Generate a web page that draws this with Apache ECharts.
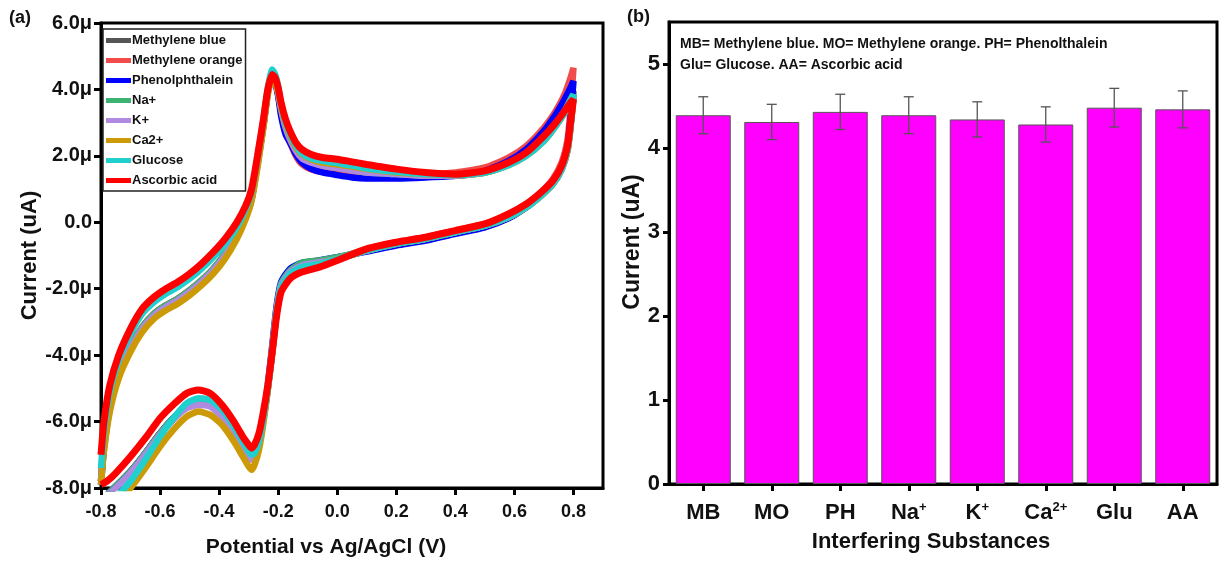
<!DOCTYPE html>
<html>
<head>
<meta charset="utf-8">
<script src="https://cdn.jsdelivr.net/npm/echarts@6/dist/echarts.min.js"></script>
<style>
html,body{margin:0;padding:0;background:#fff;}
#chart{width:1225px;height:563px;}
</style>
</head>
<body>
<div id="chart"></div>
<script>
// ---------- Panel (a): cyclic voltammograms ----------
const seriesNames = ['Methylene blue','Methylene orange','Phenolphthalein','Na+','K+','Ca2+','Glucose','Ascorbic acid'];
const seriesColors = ['#555555','#f24b4b','#0000ff','#3cb371','#b08ae0','#cc9a06','#1fd0cf','#ff0000'];

// potential (V): forward scan then reverse scan
const potential = [
  -0.80,-0.79,-0.77,-0.74,-0.70,-0.66,-0.62,-0.58,-0.54,-0.50,-0.46,-0.42,-0.38,-0.34,-0.31,-0.29,-0.27,-0.25,-0.235,-0.22,-0.21,-0.20,-0.19,-0.175,-0.16,-0.14,-0.12,-0.09,-0.05,0.00,0.05,0.10,0.20,0.30,0.40,0.50,0.58,0.64,0.70,0.74,0.77,0.79,0.80,
  0.80,0.79,0.78,0.76,0.73,0.69,0.64,0.58,0.50,0.40,0.30,0.20,0.10,0.00,-0.06,-0.12,-0.16,-0.19,-0.205,-0.22,-0.235,-0.25,-0.265,-0.28,-0.29,-0.30,-0.32,-0.35,-0.39,-0.43,-0.47,-0.51,-0.55,-0.60,-0.65,-0.70,-0.75,-0.78,-0.80
];

// current (µA)
const curMethyleneBlue = [
  -7.8,-6.7,-5.5,-4.55,-3.75,-3.15,-2.75,-2.5,-2.3,-2.05,-1.75,-1.4,-0.95,-0.35,0.2,0.75,1.8,2.95,3.95,4.45,4.3,3.95,3.45,2.9,2.55,2.2,1.95,1.8,1.7,1.62,1.55,1.5,1.45,1.4,1.4,1.5,1.75,2.05,2.55,3.0,3.45,3.8,3.95,
  3.95,2.9,2.2,1.6,1.15,0.8,0.45,0.15,-0.1,-0.3,-0.5,-0.65,-0.85,-1.1,-1.25,-1.35,-1.55,-1.95,-2.7,-3.9,-5.0,-5.9,-6.6,-7.0,-7.1,-7.0,-6.7,-6.3,-5.8,-5.5,-5.45,-5.55,-5.85,-6.35,-6.95,-7.5,-7.95,-8.2,-8.3
];
const curMethyleneOrange = [
  -7.8,-6.7,-5.5,-4.55,-3.75,-3.15,-2.75,-2.5,-2.3,-2.05,-1.75,-1.4,-0.95,-0.35,0.2,0.75,1.8,2.95,3.95,4.4,4.25,3.85,3.3,2.7,2.4,2.0,1.75,1.6,1.52,1.48,1.45,1.45,1.45,1.45,1.5,1.65,1.95,2.3,2.85,3.35,3.85,4.35,4.65,
  4.65,3.4,2.5,1.8,1.3,0.9,0.5,0.2,-0.05,-0.25,-0.45,-0.6,-0.8,-1.1,-1.25,-1.35,-1.55,-1.95,-2.7,-3.9,-5.0,-5.9,-6.6,-7.0,-7.1,-7.0,-6.7,-6.3,-5.8,-5.5,-5.45,-5.55,-5.85,-6.35,-6.95,-7.5,-7.95,-8.2,-8.3
];
const curPhenolphthalein = [
  -7.9,-6.8,-5.6,-4.6,-3.8,-3.2,-2.8,-2.55,-2.35,-2.1,-1.8,-1.45,-1.0,-0.4,0.15,0.7,1.75,2.9,3.9,4.4,4.2,3.8,3.2,2.65,2.4,2.05,1.8,1.62,1.5,1.42,1.35,1.32,1.32,1.35,1.4,1.55,1.85,2.2,2.75,3.25,3.7,4.05,4.25,
  4.25,3.1,2.3,1.65,1.2,0.82,0.45,0.12,-0.15,-0.35,-0.55,-0.7,-0.88,-1.05,-1.15,-1.22,-1.4,-1.8,-2.5,-3.7,-4.9,-5.9,-6.6,-7.0,-7.1,-7.0,-6.7,-6.3,-5.8,-5.5,-5.45,-5.55,-5.85,-6.35,-6.95,-7.5,-7.95,-8.2,-8.3
];
const curNa = [
  -7.8,-6.7,-5.5,-4.55,-3.75,-3.15,-2.75,-2.5,-2.3,-2.05,-1.75,-1.4,-0.95,-0.35,0.2,0.75,1.8,2.95,3.95,4.45,4.3,3.95,3.45,2.9,2.55,2.2,1.97,1.82,1.72,1.65,1.57,1.5,1.45,1.4,1.4,1.5,1.75,2.05,2.5,2.95,3.35,3.7,3.85,
  3.85,2.9,2.2,1.6,1.15,0.8,0.45,0.15,-0.1,-0.3,-0.5,-0.65,-0.85,-1.05,-1.15,-1.22,-1.45,-1.85,-2.6,-3.8,-4.95,-5.9,-6.6,-7.0,-7.1,-7.0,-6.7,-6.3,-5.8,-5.5,-5.45,-5.55,-5.85,-6.35,-6.95,-7.5,-7.95,-8.2,-8.3
];
const curK = [
  -7.8,-6.7,-5.5,-4.55,-3.8,-3.2,-2.8,-2.55,-2.35,-2.1,-1.8,-1.45,-1.0,-0.4,0.15,0.7,1.75,2.9,3.9,4.4,4.25,3.9,3.4,2.85,2.5,2.15,1.93,1.8,1.7,1.63,1.56,1.5,1.45,1.4,1.4,1.5,1.75,2.05,2.5,2.95,3.35,3.65,3.8,
  3.8,2.85,2.15,1.6,1.15,0.8,0.45,0.15,-0.1,-0.3,-0.5,-0.65,-0.85,-1.1,-1.2,-1.3,-1.5,-1.9,-2.65,-3.85,-5.0,-5.95,-6.65,-7.05,-7.15,-7.05,-6.75,-6.35,-5.85,-5.55,-5.5,-5.6,-5.9,-6.4,-7.0,-7.55,-8.0,-8.25,-8.35
];
const curCa = [
  -7.9,-6.9,-5.7,-4.7,-3.9,-3.3,-2.9,-2.65,-2.45,-2.2,-1.9,-1.55,-1.1,-0.5,0.1,0.65,1.65,2.85,3.85,4.35,4.2,3.9,3.45,2.95,2.6,2.25,2.05,1.9,1.8,1.74,1.68,1.6,1.5,1.45,1.42,1.5,1.72,2.0,2.45,2.9,3.3,3.6,3.75,
  3.75,2.85,2.15,1.6,1.15,0.8,0.45,0.15,-0.1,-0.3,-0.5,-0.65,-0.85,-1.1,-1.25,-1.4,-1.6,-2.0,-2.7,-3.9,-5.05,-6.05,-6.85,-7.3,-7.45,-7.35,-7.05,-6.6,-6.1,-5.8,-5.7,-5.85,-6.2,-6.75,-7.4,-8.0,-8.5,-8.8,-8.9
];
const curGlucose = [
  -7.4,-6.3,-5.1,-4.15,-3.35,-2.75,-2.4,-2.15,-1.95,-1.7,-1.4,-1.05,-0.65,-0.15,0.4,0.9,1.95,3.1,4.05,4.6,4.45,4.1,3.55,3.0,2.65,2.3,2.08,1.93,1.85,1.78,1.71,1.62,1.52,1.45,1.42,1.5,1.72,2.0,2.45,2.9,3.3,3.65,3.85,
  3.85,2.9,2.2,1.6,1.15,0.8,0.45,0.15,-0.1,-0.3,-0.5,-0.65,-0.85,-1.1,-1.25,-1.35,-1.55,-1.95,-2.7,-3.9,-5.0,-5.9,-6.6,-6.95,-7.0,-6.9,-6.6,-6.15,-5.65,-5.35,-5.3,-5.45,-5.85,-6.45,-7.15,-7.8,-8.3,-8.6,-8.7
];
const curAscorbic = [
  -7.0,-6.0,-4.9,-4.0,-3.2,-2.6,-2.25,-2.0,-1.8,-1.55,-1.25,-0.9,-0.5,0.0,0.5,1.0,2.0,3.1,4.0,4.45,4.35,4.05,3.6,3.1,2.75,2.4,2.2,2.05,1.95,1.9,1.82,1.74,1.6,1.5,1.45,1.55,1.8,2.1,2.6,3.0,3.35,3.6,3.7,
  3.7,3.0,2.3,1.7,1.25,0.9,0.55,0.25,-0.05,-0.25,-0.45,-0.6,-0.8,-1.15,-1.35,-1.5,-1.7,-2.1,-2.8,-3.9,-4.9,-5.7,-6.35,-6.7,-6.8,-6.7,-6.45,-6.0,-5.5,-5.15,-5.05,-5.15,-5.45,-5.9,-6.5,-7.05,-7.55,-7.8,-7.9
];
const currents = [curMethyleneBlue,curMethyleneOrange,curPhenolphthalein,curNa,curK,curCa,curGlucose,curAscorbic];

const xTicksA = [-0.8,-0.6,-0.4,-0.2,0.0,0.2,0.4,0.6,0.8];
const yTicksA = [-8,-6,-4,-2,0,2,4,6];

// ---------- Panel (b): interference bar chart ----------
const categories = ['MB','MO','PH','Na+','K+','Ca2+','Glu','AA'];
const barValues = [4.39,4.31,4.43,4.39,4.34,4.28,4.48,4.46];
const barErrors = [0.22,0.21,0.21,0.22,0.21,0.21,0.23,0.22];
const yTicksB = [0,1,2,3,4,5];

const FONT = "'Liberation Sans', Arial, sans-serif";

const chart = echarts.init(document.getElementById('chart'), null, {renderer:'canvas'});

const lineSeries = seriesNames.map((name, k) => ({
  name: name,
  type: 'line',
  xAxisIndex: 0, yAxisIndex: 0,
  showSymbol: false,
  smooth: 0.2,
  clip: true,
  lineStyle: {width: k === 7 ? 7 : 6.5, color: seriesColors[k]},
  itemStyle: {color: seriesColors[k]},
  data: potential.map((v, i) => [v, currents[k][i]]),
  z: 2 + k
}));

const option = {
  animation: false,
  backgroundColor: '#ffffff',
  textStyle: {fontFamily: FONT},
  grid: [
    {left: 101, right: 622, top: 23, bottom: 73, show: true, borderColor: '#000', borderWidth: 3, backgroundColor: 'transparent'},
    {left: 669, right: 8, top: 22, bottom: 79, show: true, borderColor: '#000', borderWidth: 3, backgroundColor: 'transparent'}
  ],
  legend: {
    data: seriesNames,
    orient: 'vertical',
    left: 103, top: 29,
    padding: [5, 3, 4, 3],
    itemWidth: 25, itemHeight: 5, itemGap: 7,
    icon: 'rect',
    borderColor: '#222', borderWidth: 1.5,
    backgroundColor: '#fff',
    textStyle: {fontFamily: FONT, fontWeight: 'bold', fontSize: 13, color: '#111', padding: [0,0,0,-4]}
  },
  xAxis: [
    {
      type: 'value', gridIndex: 0, min: -0.8, max: 0.9,
      name: 'Potential vs Ag/AgCl (V)', nameLocation: 'middle', nameGap: 49,
      nameTextStyle: {fontFamily: FONT, fontWeight: 'bold', fontSize: 21, color: '#111', padding: [0, 52, 0, 0]},
      axisLine: {show: true, onZero: false, lineStyle: {color: '#000', width: 3}},
      axisTick: {show: true, inside: false, length: 7, customValues: xTicksA, lineStyle: {color: '#000', width: 3}},
      axisLabel: {customValues: xTicksA, margin: 15, fontFamily: FONT, fontWeight: 'bold', fontSize: 18, color: '#111',
        formatter: v => v.toFixed(1)},
      splitLine: {show: false}
    },
    {
      type: 'category', gridIndex: 1, data: categories,
      name: 'Interfering Substances', nameLocation: 'middle', nameGap: 45,
      nameTextStyle: {fontFamily: FONT, fontWeight: 'bold', fontSize: 22, color: '#111', padding: [0, 24, 0, 0]},
      axisLine: {show: true, lineStyle: {color: '#000', width: 3}},
      axisTick: {show: true, alignWithLabel: true, interval: 0, length: 7, lineStyle: {color: '#000', width: 3}},
      axisLabel: {interval: 0, margin: 17, color: '#111',
        formatter: v => {
          if (v.endsWith('2+')) return '{b|' + v.slice(0, -2) + '}{s|2+}';
          if (v.endsWith('+')) return '{b|' + v.slice(0, -1) + '}{s|+}';
          return '{b|' + v + '}';
        },
        rich: {
          b: {fontFamily: FONT, fontWeight: 'bold', fontSize: 22, color: '#111', lineHeight: 24},
          s: {fontFamily: FONT, fontWeight: 'bold', fontSize: 13, color: '#111', verticalAlign: 'top', lineHeight: 24, padding: [0,0,12,0]}
        }
      },
      splitLine: {show: false}
    }
  ],
  yAxis: [
    {
      type: 'value', gridIndex: 0, min: -8, max: 6, interval: 2,
      name: 'Current (uA)', nameLocation: 'middle', nameGap: 47,
      nameTextStyle: {fontFamily: FONT, fontWeight: 'bold', fontSize: 22, color: '#111'},
      axisLine: {show: true, onZero: false, lineStyle: {color: '#000', width: 3}},
      axisTick: {show: true, inside: false, length: 7, customValues: yTicksA, lineStyle: {color: '#000', width: 3}},
      axisLabel: {customValues: yTicksA, margin: 9, fontFamily: FONT, fontWeight: 'bold', fontSize: 20, color: '#111',
        formatter: v => (v === 0 ? '0.0' : v.toFixed(1) + 'μ')},
      splitLine: {show: false}
    },
    {
      type: 'value', gridIndex: 1, min: 0, max: 5.5,
      name: 'Current (uA)', nameLocation: 'middle', nameGap: 24,
      nameTextStyle: {fontFamily: FONT, fontWeight: 'bold', fontSize: 23, color: '#111', padding: [0, 0, 0, 22]},
      axisLine: {show: true, onZero: false, lineStyle: {color: '#000', width: 3}},
      axisTick: {show: true, inside: false, length: 6, customValues: yTicksB, lineStyle: {color: '#000', width: 3}},
      axisLabel: {customValues: yTicksB, margin: 9, fontFamily: FONT, fontWeight: 'bold', fontSize: 22, color: '#111'},
      splitLine: {show: false}
    }
  ],
  series: lineSeries.concat([
    {
      name: 'Current',
      type: 'bar',
      xAxisIndex: 1, yAxisIndex: 1,
      barWidth: 55,
      itemStyle: {color: '#ff00ff', borderColor: '#555', borderWidth: 1},
      data: barValues,
      z: 2
    },
    {
      name: 'Error',
      type: 'custom',
      xAxisIndex: 1, yAxisIndex: 1,
      z: 5,
      data: categories.map((c, i) => [i, barValues[i] - barErrors[i], barValues[i] + barErrors[i]]),
      renderItem: function (params, api) {
        const i = api.value(0);
        const lo = api.coord([i, api.value(1)]);
        const hi = api.coord([i, api.value(2)]);
        const w = 5;
        const st = {stroke: '#555', lineWidth: 1.3};
        return {
          type: 'group',
          children: [
            {type: 'line', shape: {x1: hi[0], y1: hi[1], x2: lo[0], y2: lo[1]}, style: st},
            {type: 'line', shape: {x1: hi[0] - w, y1: hi[1], x2: hi[0] + w, y2: hi[1]}, style: st},
            {type: 'line', shape: {x1: lo[0] - w, y1: lo[1], x2: lo[0] + w, y2: lo[1]}, style: st}
          ]
        };
      }
    }
  ]),
  graphic: [
    {type: 'text', left: 9, top: 9, style: {text: '(a)', fontFamily: FONT, fontWeight: 'bold', fontSize: 18, fill: '#111'}},
    {type: 'text', left: 627, top: 8, style: {text: '(b)', fontFamily: FONT, fontWeight: 'bold', fontSize: 18, fill: '#111'}},
    {type: 'text', left: 680, top: 37, z: 10, style: {text: 'MB= Methylene blue. MO= Methylene orange. PH= Phenolthalein', fontFamily: FONT, fontWeight: 'bold', fontSize: 14, fill: '#111'}},
    {type: 'text', left: 680, top: 58, z: 10, style: {text: 'Glu= Glucose. AA= Ascorbic acid', fontFamily: FONT, fontWeight: 'bold', fontSize: 14, fill: '#111'}}
  ]
};
chart.setOption(option);
</script>
</body>
</html>
